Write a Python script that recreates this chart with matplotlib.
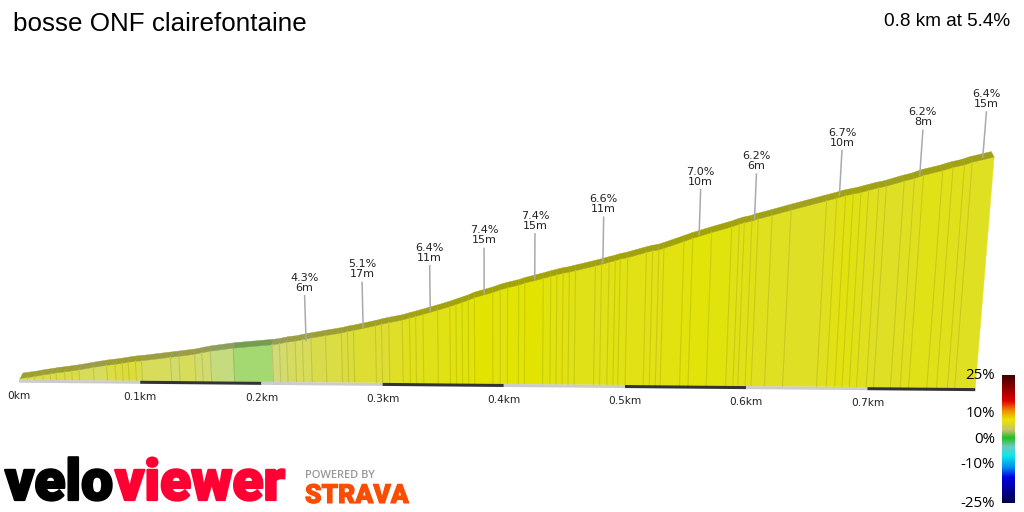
import numpy as np
import matplotlib
matplotlib.use('Agg')
import matplotlib.pyplot as plt
import matplotlib.patheffects as pe
from matplotlib.colors import LinearSegmentedColormap, to_rgb

# Segment boundaries along the climb (km) and the elevation gained there (m)
km = [0.001, 0.007, 0.013, 0.020, 0.026, 0.031, 0.038, 0.044, 0.050, 0.062, 0.073, 0.080, 0.086, 0.091,
      0.097, 0.102, 0.126, 0.133, 0.146, 0.152, 0.159, 0.178, 0.210, 0.216, 0.222, 0.229, 0.235, 0.242,
      0.254, 0.267, 0.272, 0.277, 0.295, 0.300, 0.306, 0.317, 0.323, 0.328, 0.334, 0.346, 0.356, 0.361,
      0.366, 0.371, 0.376, 0.391, 0.397, 0.403, 0.412, 0.417, 0.432, 0.438, 0.443, 0.448, 0.453, 0.458,
      0.474, 0.479, 0.485, 0.490, 0.494, 0.500, 0.515, 0.520, 0.525, 0.529, 0.545, 0.552, 0.567, 0.583,
      0.589, 0.593, 0.599, 0.604, 0.615, 0.630, 0.658, 0.666, 0.673, 0.679, 0.685, 0.691, 0.699, 0.705,
      0.719, 0.727, 0.734, 0.749, 0.757, 0.766, 0.772, 0.789]
elev = [0.2, 0.4, 0.6, 0.9, 1.1, 1.3, 1.5, 1.7, 1.9, 2.4, 2.8, 3.0, 3.2, 3.4,
        3.6, 3.7, 4.4, 4.6, 5.0, 5.3, 5.6, 6.2, 6.9, 7.1, 7.4, 7.6, 7.9, 8.2,
        8.7, 9.2, 9.5, 9.7, 10.6, 10.9, 11.2, 11.7, 12.1, 12.4, 12.8, 13.6, 14.3, 14.7,
        15.1, 15.5, 16.0, 17.0, 17.5, 17.9, 18.4, 18.8, 19.7, 20.1, 20.4, 20.7, 20.9, 21.2,
        22.1, 22.4, 22.8, 23.1, 23.4, 23.7, 24.7, 25.0, 25.2, 25.5, 26.8, 27.4, 28.5, 29.6,
        30.1, 30.4, 30.7, 31.1, 31.8, 32.8, 34.6, 35.1, 35.6, 35.9, 36.2, 36.6, 37.1, 37.4,
        38.4, 38.9, 39.5, 40.4, 41.0, 41.5, 42.0, 43.0]
# gradient of each segment
grade = [4.2, 4.2, 4.2, 4.2, 4.2, 4.2, 4.2, 4.2, 3.5, 3.5, 4.2, 4.5, 4.5, 4.8,
         4.2, 3.5, 3, 3.5, 3, 3, 2, 1, 2.7, 3, 3.3, 3.5, 3.5, 4,
         4.2, 4.5, 4.5, 5, 5, 5, 5.5, 6, 6.2, 6.2, 6.4, 6.6, 6.8, 7,
         7, 7.2, 7.6, 7.2, 7, 7.4, 7.4, 7.6, 7, 7, 6.8, 6.8, 6.6, 6.4,
         6.4, 6.4, 6.6, 6.8, 6.6, 6.5, 6.5, 6.5, 6.5, 6.8, 7, 7.2, 7, 6.6,
         6.4, 6.4, 6.4, 6, 5.8, 5.6, 6, 6.5, 6.8, 6.6, 6.4, 6, 5.8, 5.6,
         5.8, 6, 6.4, 6.3, 6.2, 6.0, 5.8]

# Climb markers
mark_km = [0.238, 0.285, 0.340, 0.384, 0.425, 0.480, 0.557, 0.601, 0.668, 0.731, 0.780]
mark_elev = [7.7, 10.3, 13.5, 16.8, 19.6, 22.8, 28.1, 31.1, 35.6, 39.5, 43.0]
mark_pct = ['4.3%', '5.1%', '6.4%', '7.4%', '7.4%', '6.6%', '7.0%', '6.2%', '6.7%', '6.2%', '6.4%']
mark_len = ['6m', '17m', '11m', '15m', '15m', '11m', '10m', '6m', '10m', '8m', '15m']

tick_km = [0, 0.1, 0.2, 0.3, 0.4, 0.5, 0.6, 0.7]
tick_labels = ['0km', '0.1km', '0.2km', '0.3km', '0.4km', '0.5km', '0.6km', '0.7km']
strip_edges = [0, 0.1, 0.2, 0.3, 0.4, 0.5, 0.6, 0.7, 0.789]

scale_values = [25, 10, 0, -10, -25]
scale_labels = ['25%', '10%', '0%', '-10%', '-25%']

assert len(km) == len(elev) == len(grade) + 1

# Projection of the slanted 3d view, in pixels
X0, Y0 = 19, 379.6
KM_PX, M_PX = 1212, 5.37
SLOPE, LEAN, CENTRE = 0.0088, 0.000172, 500


def project(k, e):
    bx = X0 + np.asarray(k) * KM_PX
    by = Y0 + (bx - X0) * SLOPE
    h = np.asarray(e) * M_PX
    return bx + h * (bx - CENTRE) * LEAN, by - h


face_cmap = LinearSegmentedColormap.from_list('face', [
    (0.0, '#a4d870'), (0.12, '#c0dc80'), (0.25, '#d0da78'), (0.4, '#d8dc55'),
    (0.55, '#dcdd38'), (0.75, '#e0e020'), (1.0, '#e2e400')])
bar_cmap = LinearSegmentedColormap.from_list('bar', [
    (0.0, '#00004a'), (0.2, '#0000e0'), (0.28, '#0090f0'), (0.37, '#10e8e8'),
    (0.44, '#70c8c0'), (0.51, '#20c020'), (0.57, '#c8c070'), (0.65, '#e8e800'),
    (0.72, '#f09000'), (0.8, '#e00000'), (1.0, '#400000')])

fig = plt.figure(figsize=(10.24, 5.12), dpi=100)
ax = fig.add_axes([0, 0, 1, 1])
ax.axis('off')

top_x, top_y = project(km, elev)
base_x, base_y = project(km, np.zeros(len(km)))
back_x = top_x + (CENTRE - top_x) * 0.006
back_y = top_y - 5.5

for i, g in enumerate(grade):
    col = np.array(to_rgb(face_cmap((g - 1) / 6.6)))
    ax.fill([base_x[i], base_x[i + 1], top_x[i + 1], top_x[i]],
            [base_y[i], base_y[i + 1], top_y[i + 1], top_y[i]], color=col, lw=0.3, zorder=2)
    # top face of the ribbon
    ax.fill([top_x[i], top_x[i + 1], back_x[i + 1], back_x[i]],
            [top_y[i], top_y[i + 1], back_y[i + 1], back_y[i]], color=col * 0.72, lw=0.3, zorder=2)
    ax.plot([top_x[i], base_x[i]], [top_y[i], base_y[i]], color=col * 0.9, lw=0.8, zorder=3)

# Alternating distance strip under the profile
for i in range(len(strip_edges) - 1):
    sx, sy = project(strip_edges[i:i + 2], [0, 0])
    ax.plot(sx, sy + 1.6, color='#cccccc' if i % 2 == 0 else '#333333', lw=2.2,
            solid_capstyle='butt', zorder=4)

tx, ty = project(tick_km, np.zeros(len(tick_km)))
for x, y, lab in zip(tx, ty, tick_labels):
    ax.text(x, y + 16, lab, ha='center', va='center', fontsize=7.6, color='#222222')

# Marker lines and their labels
mx, my = project(mark_km, mark_elev)
ex, ey = project(mark_km, np.array(mark_elev) + 45 / M_PX)
for i in range(len(mark_km)):
    ax.plot([mx[i], ex[i]], [my[i], ey[i]], color='#aaaaaa', lw=1.1, zorder=5)
    ax.text(ex[i], ey[i] - 3, mark_len[i], ha='center', va='bottom', fontsize=8,
            color='#222222', zorder=6)
    ax.text(ex[i], ey[i] - 13, mark_pct[i], ha='center', va='bottom', fontsize=8,
            color='#222222', zorder=6)

ax.text(13, 24, 'bosse ONF clairefontaine', fontsize=18.7, family='Liberation Sans',
        ha='left', va='center', color='black')
ax.text(1010, 22, '0.8 km at 5.4%', fontsize=13.7, family='Liberation Sans',
        ha='right', va='center', color='black')

# Gradient scale
ramp = np.linspace(1, 0, 256).reshape(-1, 1)
ax.imshow(ramp, cmap=bar_cmap, extent=(1002, 1015, 503, 375), aspect='auto', vmin=0, vmax=1, zorder=2)
for v, lab in zip(scale_values, scale_labels):
    ax.text(995, 439.2 - v * 2.56, lab, ha='right', va='center',
            fontsize=10.8, family='Open Sans', color='black', zorder=7)

# Logos
ax.text(5, 500, 'velo', fontsize=41, family='Roboto', fontweight='black', color='black',
        ha='left', va='baseline', path_effects=[pe.withStroke(linewidth=1.6, foreground='black')])
ax.text(115, 500, 'viewer', fontsize=41, family='Roboto', fontweight='black', color='#ff0033',
        ha='left', va='baseline', path_effects=[pe.withStroke(linewidth=1.6, foreground='#ff0033')])
ax.text(305, 478, 'POWERED BY', fontsize=8, family='Open Sans', fontweight='semibold', color='#999999',
        ha='left', va='baseline')
ax.text(305, 503, 'STRAVA', fontsize=19, family='Roboto', fontweight='black', color='#fc4c02',
        ha='left', va='baseline', path_effects=[pe.withStroke(linewidth=0.8, foreground='#fc4c02')])

ax.set_xlim(0, 1024)
ax.set_ylim(512, 0)
fig.savefig('out.png', dpi=100)
